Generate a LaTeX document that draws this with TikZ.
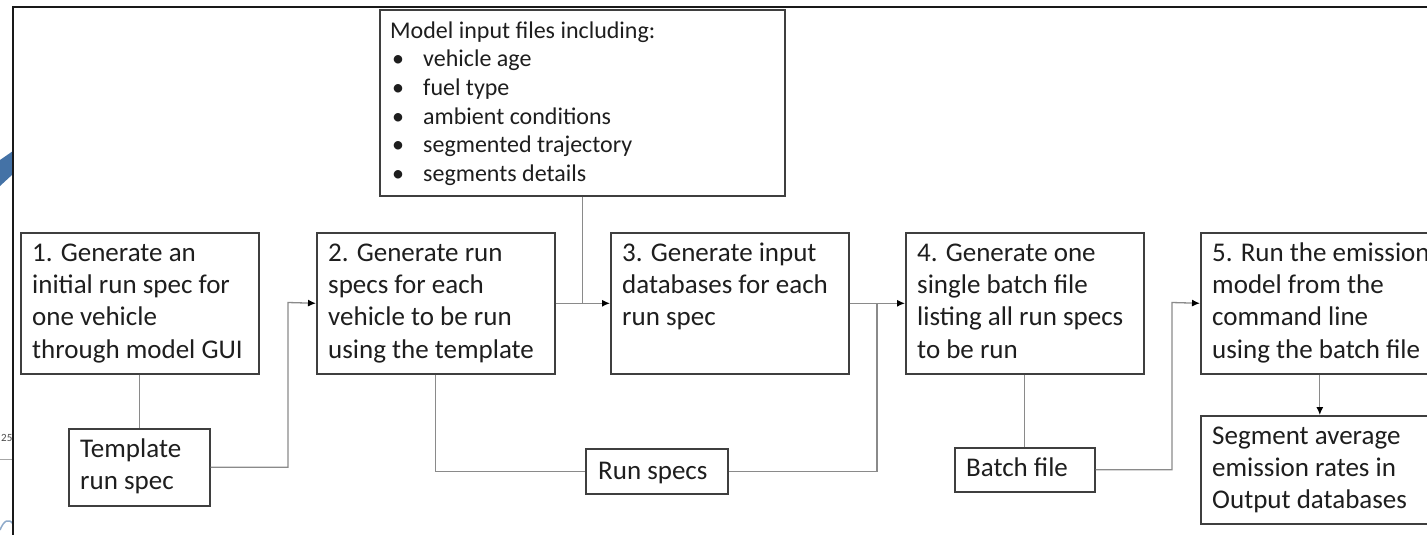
\documentclass[tikz,border=0pt]{standalone}
\usepackage{fontspec}
\setmainfont{Carlito}
\usetikzlibrary{arrows.meta}
\definecolor{boxline}{HTML}{3F3F3F}
\definecolor{connc}{HTML}{8A8A8A}
\definecolor{txtc}{HTML}{1E1E1E}
\definecolor{artblue}{HTML}{4472A6}
\newcommand\myfirst{\rule{0pt}{22pt}}
\newcommand\myfirstm{\rule{0pt}{19.5pt}}
\newcommand\mybul[1]{\hspace*{2pt}\makebox[31pt][l]{•}#1}
\begin{document}
\begin{tikzpicture}[x=1pt,y=-1pt,
  box/.style={draw=boxline, line width=1.6pt, inner sep=0pt, anchor=north west, fill=white},
  btext/.style={anchor=north west, inner sep=0pt, align=left, text=txtc,
                font=\fontsize{27}{32.3}\selectfont},
  mtext/.style={anchor=north west, inner sep=0pt, align=left, text=txtc,
                font=\fontsize{24}{28.6}\selectfont},
  conn/.style={draw=connc, line width=1.3pt},
  arr/.style={conn, -{Latex[length=8pt,width=7pt,color=black]}},
  frame/.style={draw=black!90, line width=2.2pt}
]
\useasboundingbox (0,0) rectangle (1427,535);
\clip (0,0) rectangle (1427,535);

% screenshot remnants left of the frame
\fill[artblue] (0,160) -- (13,151) -- (13,174) -- (0,186) -- cycle;
\node[anchor=base west, inner sep=0pt, text=black!70, font=\fontsize{11}{13}\selectfont] (art25) at (1,441) {25};
\draw[black!35, line width=1pt] (0,459) -- (13,459);
\draw[artblue!60, line width=1.5pt] (0,530) .. controls (4,520) and (9,518) .. (13,524);

% frame
\draw[frame] (13,535) -- (13,7) -- (1427,7);

% model input files
\node[box, minimum width=405pt, minimum height=186pt] (mi) at (379,9) {};
\node[mtext] (mit) at (390,18.5) {\myfirstm Model input files including:\\
  \mybul{vehicle age}\\
  \mybul{fuel type}\\
  \mybul{ambient conditions}\\
  \mybul{segmented trajectory}\\
  \mybul{segments details}};

% main steps
\node[box, minimum width=238pt, minimum height=141pt] (b1) at (20,232) {};
\node[btext] (b1t) at (32,239) {\myfirst 1. Generate an\\initial run spec for\\one vehicle\\through model GUI};
\node[box, minimum width=238pt, minimum height=141pt] (b2) at (316,232) {};
\node[btext] (b2t) at (328,239) {\myfirst 2. Generate run\\specs for each\\vehicle to be run\\using the template};
\node[box, minimum width=238pt, minimum height=141pt] (b3) at (610,232) {};
\node[btext] (b3t) at (622,239) {\myfirst 3. Generate input\\databases for each\\run spec};
\node[box, minimum width=238pt, minimum height=141pt] (b4) at (905,232) {};
\node[btext] (b4t) at (917,239) {\myfirst 4. Generate one\\single batch file\\listing all run specs\\to be run};
\node[box, minimum width=238pt, minimum height=141pt] (b5) at (1200,232) {};
\node[btext] (b5t) at (1212,239) {\myfirst 5. Run the emission\\model from the\\command line\\using the batch file};

% outputs
\node[box, minimum width=141pt, minimum height=77pt] (tpl) at (68,428) {};
\node[btext] (tplt) at (80,435) {\myfirst Template\\run spec};
\node[box, minimum width=142pt, minimum height=45pt] (rs) at (585,448) {};
\node[btext] (rst) at (598,457) {\myfirst Run specs};
\node[box, minimum width=140pt, minimum height=44pt] (bf) at (954,447) {};
\node[btext] (bft) at (966,454) {\myfirst Batch file};
\node[box, minimum width=238pt, minimum height=108pt] (seg) at (1200,415) {};
\node[btext] (segt) at (1212,422) {\myfirst Segment average\\emission rates in\\Output databases};

% junctions
\coordinate (j1) at (288,302.5);
\coordinate (j2) at (877,302.5);
\coordinate (j3) at (1172,302.5);

% connectors
\draw[conn] (b1.south) -- (tpl.north -| b1.south);
\draw[arr] (tpl.east) -| (j1) -- (b2.west);
\draw[arr] (b2.east) -- (b3.west);
\draw[conn] (mi.south) -- (mi.south |- b3.west);
\draw[arr] (b3.east) -- (b4.west);
\draw[conn] (b2.south) |- (rs.west);
\draw[conn] (rs.east) -| (j2);
\draw[conn] (b4.south) -- (bf.north);
\draw[arr] (bf.east) -| (j3) -- (b5.west);
\draw[arr] (b5.south) -- (seg.north);
\end{tikzpicture}
\end{document}
